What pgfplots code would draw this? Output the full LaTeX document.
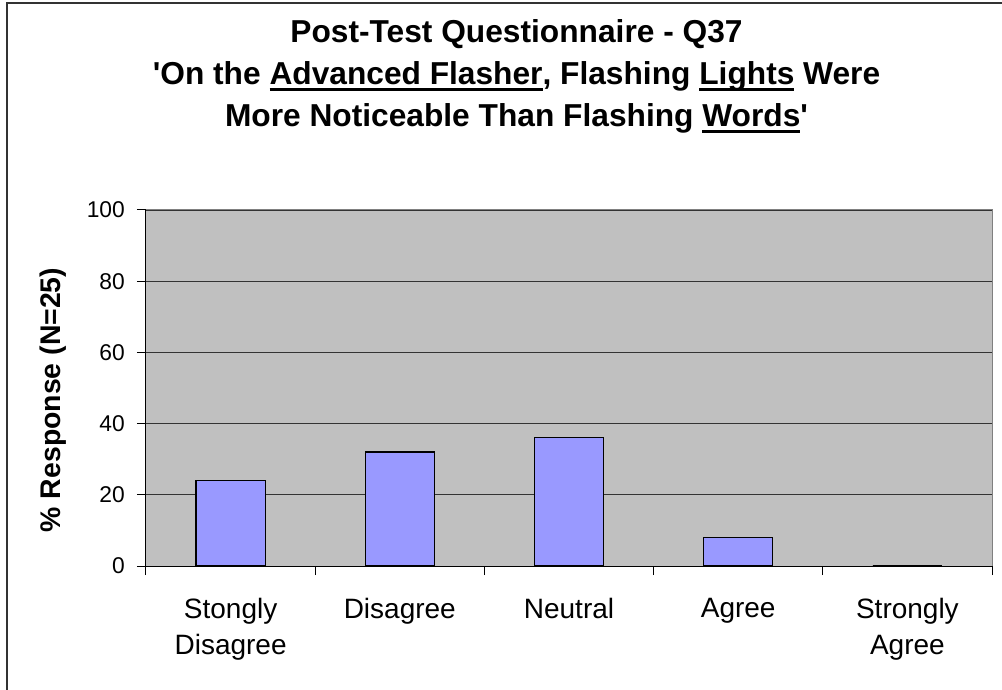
\documentclass[border=0pt]{standalone}
\usepackage{pgfplots}
\pgfplotsset{compat=1.18}
\usepackage{fontspec}
\setmainfont{Liberation Sans}
\definecolor{plotbg}{HTML}{C0C0C0}
\definecolor{barfill}{HTML}{9999FF}
\newcommand\ul[1]{\setbox0\hbox{#1}\rlap{\rule[-6.5pt]{\wd0}{3pt}}\box0\relax}
\begin{document}
\begin{tikzpicture}[x=1pt,y=1pt]
\useasboundingbox (0,0) rectangle (1002,689);
\draw[line width=2pt, black!80] (6.5,-30) rectangle (1040,685.5);
\begin{scope}[every node/.style={font=\fontsize{31.7}{42}\selectfont\bfseries, anchor=base, inner sep=0pt}]
\node at (516.5,646) {Post-Test Questionnaire - Q37};
\node at (516.5,604) {\textquotesingle On the \ul{Advanced Flasher}, Flashing \ul{Lights} Were};
\node at (516.5,562) {More Noticeable Than Flashing \ul{Words}\textquotesingle};
\end{scope}
\node[font=\fontsize{28.4}{34}\selectfont\bfseries, rotate=90, inner sep=0pt] at (53,289) {\% Response (N=25)};
\begin{axis}[
  at={(146pt,123pt)}, anchor=south west,
  scale only axis, width=846pt, height=356pt,
  xmin=-0.5, xmax=4.5, ymin=0, ymax=100,
  axis x line*=bottom, axis y line*=left,
  axis line style={black, line width=1pt},
  axis background/.style={fill=plotbg, draw=black!50, line width=1pt},
  ytick={0,20,...,100},
  ymajorgrids, grid style={black!80, line width=0.9pt},
  tick align=outside, major tick length=9pt,
  tick style={black, line width=1pt},
  xtick={-0.5,0.5,...,4.5}, xticklabels={},
  extra x ticks={0,1,2,3,4},
  extra x tick labels={{Stongly\\Disagree},Disagree,Neutral,Agree,{Strongly\\Agree}},
  extra x tick style={major tick length=0pt, grid=none,
     xticklabel style={font=\fontsize{28}{36}\selectfont, align=center, inner sep=0pt, anchor=north, yshift=-32pt}},
  /pgf/number format/assume math mode=true,
  yticklabel style={font=\fontsize{22.8}{27}\selectfont, inner sep=0pt, anchor=east, xshift=-12pt},
  ybar, bar width=0.408,
]
\addplot[fill=barfill, draw=black, line width=1.2pt] coordinates {(0,24) (1,32) (2,36) (3,8) (4,0)};
\end{axis}
\end{tikzpicture}
\end{document}
